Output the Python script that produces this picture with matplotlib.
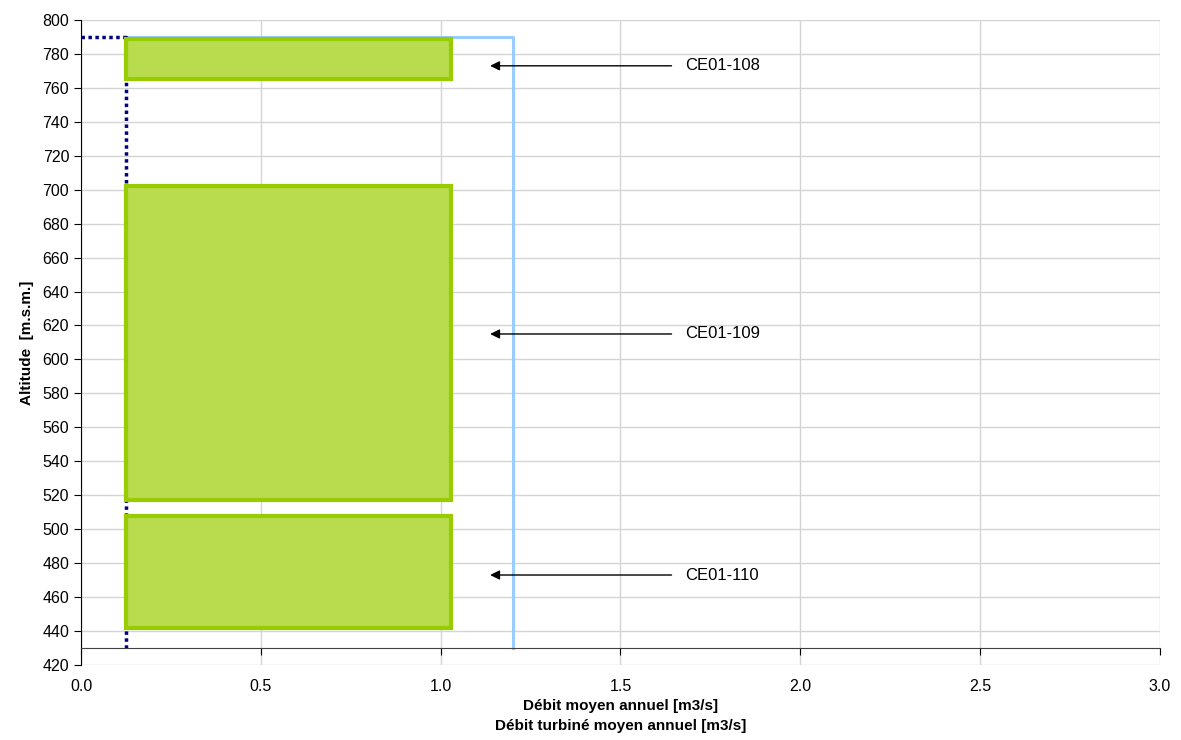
import matplotlib
matplotlib.use("Agg")
import matplotlib.pyplot as plt
import numpy as np

plt.rcParams['font.family'] = ['Liberation Sans', 'DejaVu Sans']

# data
zones = ['CE01-108', 'CE01-109', 'CE01-110']
zone_bottom = [765, 517, 442]
zone_top = [789, 702, 508]
zone_q_min = 0.125
zone_q_max = 1.03
label_alt = [773, 615, 473]

q_turb = 1.2          # débit turbiné
q_res = 0.125         # débit résiduel
alt_top = 790
alt_bottom = 430

fig = plt.figure(figsize=(11.81, 7.40), dpi=100)
ax = fig.add_axes([0.0686, 0.1014, 0.9134, 0.8716])

ax.set_xlim(0, 3.0)
ax.set_ylim(420, 800)
ax.set_xticks(np.arange(0, 3.01, 0.5))
ax.set_yticks(np.arange(420, 801, 20))
ax.set_xticklabels([f"{v:.1f}" for v in np.arange(0, 3.01, 0.5)])
ax.grid(True, color='#d4d4d4', lw=1)
ax.set_axisbelow(True)

ax.plot([q_res, q_turb, q_turb], [alt_top, alt_top, alt_bottom], color='#99ccff', lw=2.2, zorder=2)
ax.plot([0, q_res, q_res], [alt_top, alt_top, alt_bottom], color='#000080', lw=2.5,
        ls=(0, (1, 1)), zorder=2.5)

for b, t in zip(zone_bottom, zone_top):
    ax.add_patch(plt.Rectangle((zone_q_min, b), zone_q_max - zone_q_min, t - b,
                               facecolor='#b8dc4e', edgecolor='#99cc00', lw=3, zorder=3))

for name, y in zip(zones, label_alt):
    ax.annotate('', xy=(1.13, y), xytext=(1.65, y),
                arrowprops=dict(arrowstyle='-|>', color='black', lw=1, mutation_scale=14))
    ax.text(1.68, y, name, va='center', ha='left', fontsize=12)

for s in ['top', 'right']:
    ax.spines[s].set_visible(False)
ax.spines['bottom'].set_position(('data', 430))
ax.spines['bottom'].set_color('#404040')
ax.spines['left'].set_color('black')
ax.tick_params(axis='x', direction='out', length=5, labelsize=11.5, pad=17)
ax.tick_params(axis='y', direction='out', length=5, labelsize=11.5)

ax.set_ylabel('Altitude  [m.s.m.]', fontweight='bold', fontsize=11, labelpad=6)
ax.set_xlabel('Débit moyen annuel [m3/s]\nDébit turbiné moyen annuel [m3/s]',
              fontweight='bold', fontsize=11, linespacing=1.5)

fig.savefig('out.png', dpi=100)
